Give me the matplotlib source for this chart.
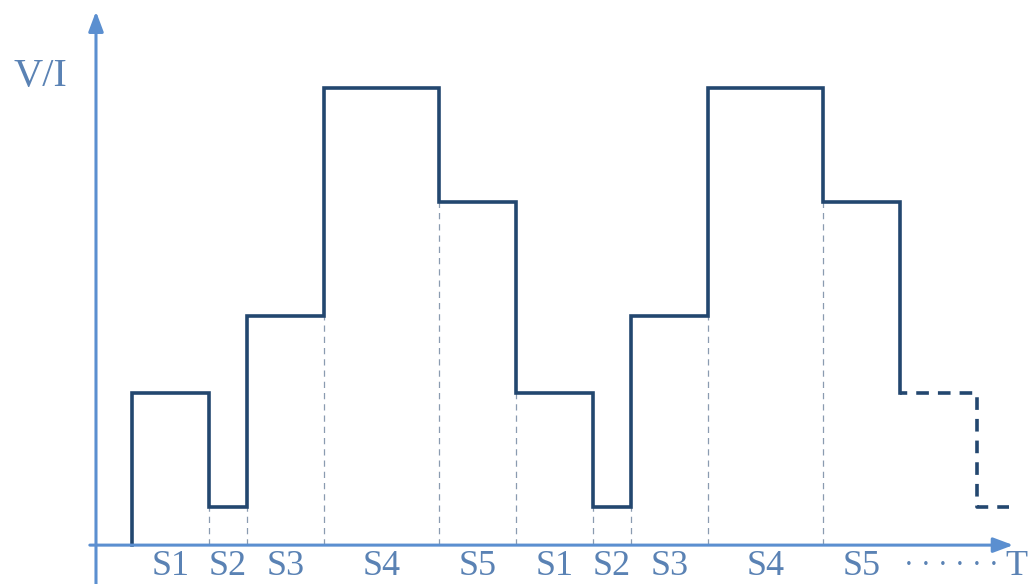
import matplotlib.pyplot as plt

# segment names, durations and levels (one cycle)
stages = ["S1", "S2", "S3", "S4", "S5"]
durations = [2, 1, 2, 3, 2]
levels = [4, 1, 6, 12, 9]
n_cycles = 2
t_start = 1
# dashed continuation after the last S5 (next S1 and S2)
tail_steps = [(2, 4), (0.85, 1)]

axis_col = "#5b8fd0"
wave_col = "#23476f"
text_col = "#5a82b4"

# build step waveform
times = [t_start]
vals = [0]
t = t_start
bounds = []
for c in range(n_cycles):
    for d, v in zip(durations, levels):
        times += [t, t + d]
        vals += [v, v]
        bounds.append((t, t + d, v))
        t += d
# solid drop into the next stage
times.append(t)
vals.append(tail_steps[0][1])

fig = plt.figure(figsize=(10.29, 5.84), dpi=100)
ax = fig.add_axes([0, 0, 1, 1])
ax.set_xlim(-2.44, 24.36)
ax.set_ylim(-1.02, 14.30)
ax.axis("off")

ax.plot(times, vals, color=wave_col, lw=2.6, solid_joinstyle="miter", zorder=3)

# dashed tail
tt, tv = [t], [tail_steps[0][1]]
for d, v in tail_steps:
    tt += [tt[-1], tt[-1] + d]
    tv += [v, v]
ax.plot(tt[1:], tv[1:], color=wave_col, lw=2.6, ls=(1.5, (3.5, 2.5)), zorder=3)

# thin guides at segment boundaries
for i in range(len(bounds) - 1):
    x = bounds[i][1]
    low = min(bounds[i][2], bounds[i + 1][2])
    ax.plot([x, x], [0, low], color="#8a9bb0", lw=0.9, ls=(0, (5, 4)), zorder=2)

# axes with arrows
ax.annotate("", xy=(23.95, 0), xytext=(-0.1, 0),
            arrowprops=dict(arrowstyle="-|>,head_length=1.2,head_width=0.45",
                            color=axis_col, lw=2.2, shrinkA=0, shrinkB=0))
ax.annotate("", xy=(0.06, 14.0), xytext=(0.06, -1.1),
            arrowprops=dict(arrowstyle="-|>,head_length=1.2,head_width=0.45",
                            color=axis_col, lw=2.2, shrinkA=0, shrinkB=0))

font = dict(family="Liberation Serif", color=text_col)
for i, (a, b, v) in enumerate(bounds):
    ax.text((a + b) / 2, -0.56, stages[i % len(stages)], ha="center", va="center",
            fontsize=26, **font)
ax.text(21.1, -0.56, "· · · · · ·", ha="left", va="center", fontsize=21, **font)
ax.text(24.33, -0.56, "T", ha="right", va="center", fontsize=26, **font)
ax.text(-2.1, 12.3, "V/I", ha="left", va="center", fontsize=29, **font)

fig.savefig("out.png", dpi=100)
